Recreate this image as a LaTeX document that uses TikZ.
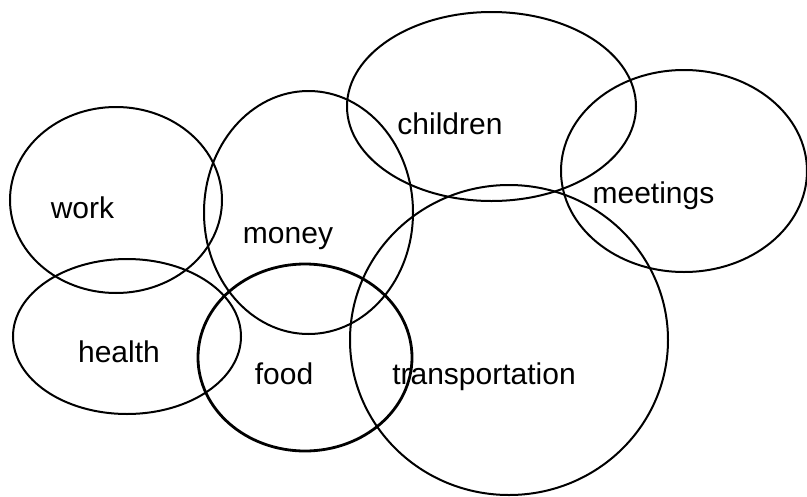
\documentclass[tikz,border=0pt]{standalone}
\usepackage{fontspec}
\setmainfont{Liberation Sans}
\usetikzlibrary{shapes.geometric}

\tikzset{
	topic/.style={ellipse, draw, line width=2pt, inner sep=0pt},
	word/.style={font=\fontsize{30}{36}\selectfont, inner sep=0pt, anchor=base}
}

\begin{document}
\begin{tikzpicture}[x=1pt, y=-1pt]
	\useasboundingbox (0,0) rectangle (807,496);
	% Draw the ellipses
	\node [topic, minimum width=212pt, minimum height=186pt] at (116,200) (work) {};
	\node [topic, minimum width=209pt, minimum height=243pt] at (308.5,212.5) (money) {};
	\node [topic, minimum width=289pt, minimum height=189pt] at (491.5,106.5) (children) {};
	\node [topic, minimum width=246pt, minimum height=202pt] at (684,171) (meetings) {};
	\node [topic, minimum width=228pt, minimum height=155pt] at (127,336.5) (health) {};
	% food is drawn with a heavier pen
	\node [topic, line width=2.8pt, minimum width=214pt, minimum height=187pt] at (305,357.5) (food) {};
	\node [topic, minimum width=318pt, minimum height=310pt] at (509,340) (transport) {};
	% Labels, placed on their baselines
	\node [word] at (82.5,218) (workL) {work};
	\node [word] at (288,243) (moneyL) {money};
	\node [word] at (450,134) (childrenL) {children};
	\node [word] at (653.5,203) (meetingsL) {meetings};
	\node [word] at (119,362) (healthL) {health};
	\node [word] at (284,384) (foodL) {food};
	\node [word] at (484,384) (transportL) {transportation};
\end{tikzpicture}
\end{document}
